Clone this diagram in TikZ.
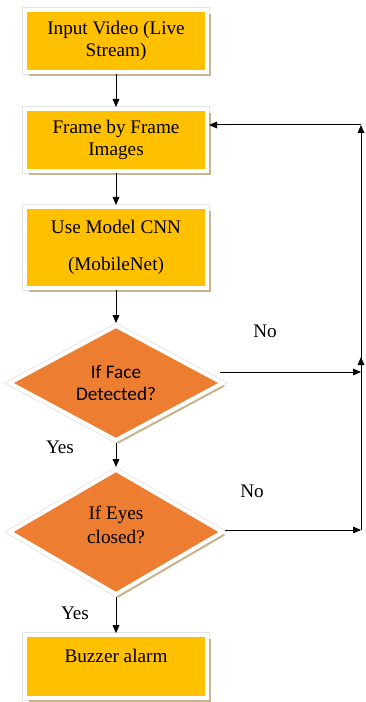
\documentclass[tikz,border=0pt]{standalone}
\usepackage{fontspec}
\setmainfont{Liberation Serif}
\newfontfamily\calfont{Carlito}
\usepackage{tikz}
\usetikzlibrary{arrows.meta,positioning,calc,shapes.geometric,shadows}
\definecolor{boxfill}{HTML}{FFC000}
\definecolor{decfill}{HTML}{ED7D31}
\definecolor{shadowc}{HTML}{C9B48E}
\definecolor{rimc}{HTML}{E4E4E4}

\begin{document}
\begin{tikzpicture}[x=0.75pt,y=-0.75pt,
  font=\fontsize{14.4}{16}\selectfont,
  procbox/.style={rectangle,fill=boxfill,draw=white,line width=3pt,
    minimum width=136.5pt,inner sep=2pt,align=center,
    preaction={draw=rimc,line width=4.2pt},
    drop shadow={shadow xshift=3pt,shadow yshift=-3pt,fill=shadowc,opacity=1}},
  decide/.style={diamond,fill=decfill,draw=white,line width=3pt,
    minimum width=161pt,inner sep=0pt,align=center,
    preaction={draw=rimc,line width=4.2pt},
    drop shadow={shadow xshift=2pt,shadow yshift=-2.5pt,fill=shadowc,opacity=1}},
  arr/.style={-{Triangle[length=6pt,width=5pt]},line width=0.75pt},
]
\useasboundingbox (0,0) rectangle (365,702);

% main column
\node[procbox,minimum height=46.5pt] (input) at (116,41) {Input Video (Live\\Stream)};
\node[procbox,minimum height=46.5pt] (frames) at (116,140) {Frame by Frame\\Images};
\node[procbox,minimum height=60.75pt] (cnn) at (116,247.5) {Use Model CNN\\[12pt](MobileNet)};
\node[decide,minimum height=79.5pt,font=\calfont\fontsize{14.4}{17}\selectfont] (face) at (116,383) {If Face\\Detected?};
\node[decide,minimum height=94.5pt,font=\fontsize{14.4}{18}\selectfont] (eyes) at (116,532) {If Eyes\\closed?\\[-7.5pt]\mbox{}};
\node[procbox,minimum height=47pt] (buzz) at (116,666.5) {Buzzer alarm\\\mbox{}};

\draw[arr] (input) -- (frames);
\draw[arr] (frames) -- (cnn);
\draw[arr] (cnn) -- (face);
\draw[arr] (face) -- (eyes);
\draw[arr] (eyes) -- (buzz);

% loop back on the right
\coordinate (backtop) at (361,125);
\coordinate (backmid) at (361,372);
\coordinate (backlow) at (361,530);
\draw[arr] ($(face.east |- backmid)+(-5,0)$) -- (backmid);
\draw[arr] (eyes.east |- backlow) -- (backlow);
\draw[arr] (backlow) -- ($(backmid)+(0,-15)$);
\draw[arr] (backmid) -- (backtop);
\draw[arr] (backtop) -- (frames.east |- backtop);

% branch labels
\node (no1) at (265,331) {No};
\node (no2) at (252,491) {No};
\node (yes1) at (60,447) {Yes};
\node (yes2) at (75,613) {Yes};
\end{tikzpicture}
\end{document}
